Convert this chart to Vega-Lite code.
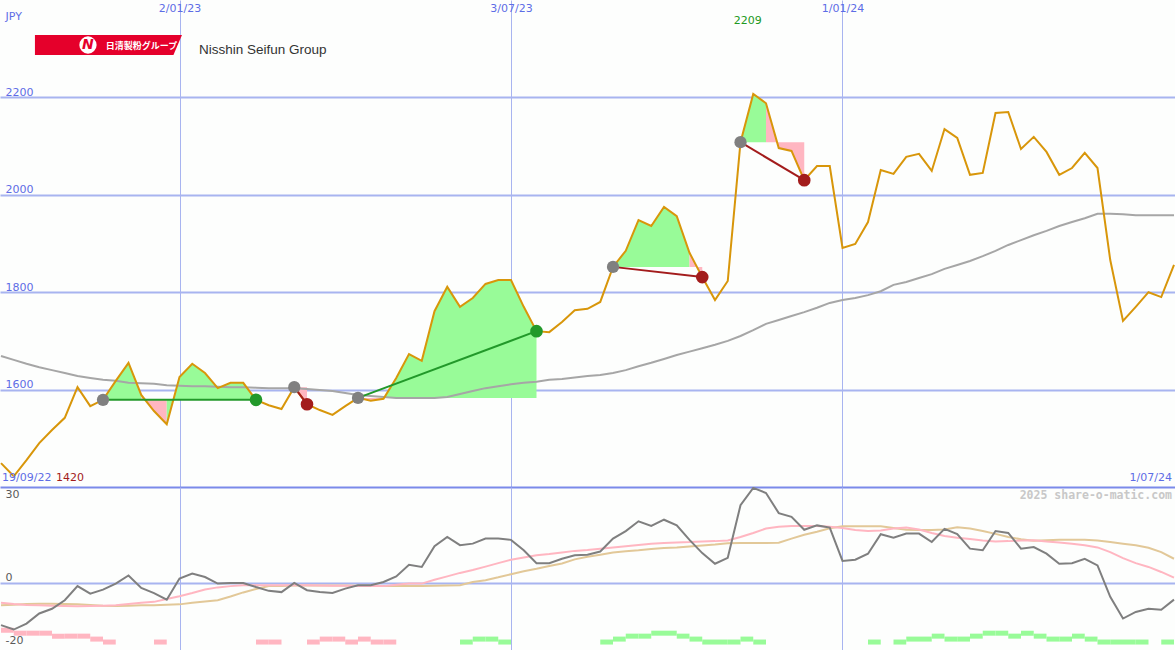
{
"$schema": "https://vega.github.io/schema/vega-lite/v6.json",
"background": "#fdfefd",
"padding": 0,
"spacing": 0,
"bounds": "flush",
"config": {"view": {"stroke": null}, "text": {"font": "DejaVu Sans"}},
"datasets": {
"price": [
{"d":"2022-09-26","p":1449,"ma":1669,"o":-13.4,"pk":-6.3,"tn":-7.1},
{"d":"2022-10-03","p":1422,"ma":1661,"o":-14.8,"pk":-6.7,"tn":-6.9},
{"d":"2022-10-10","p":1455,"ma":1653,"o":-12.9,"pk":-7.0,"tn":-6.7},
{"d":"2022-10-17","p":1490,"ma":1646,"o":-9.7,"pk":-7.1,"tn":-6.6},
{"d":"2022-10-24","p":1517,"ma":1640,"o":-8.2,"pk":-7.2,"tn":-6.6},
{"d":"2022-10-31","p":1542,"ma":1634,"o":-5.5,"pk":-7.3,"tn":-6.7},
{"d":"2022-11-07","p":1605,"ma":1628,"o":-1.0,"pk":-7.4,"tn":-6.8},
{"d":"2022-11-14","p":1566,"ma":1624,"o":-3.4,"pk":-7.3,"tn":-7.0},
{"d":"2022-11-21","p":1579,"ma":1620,"o":-2.1,"pk":-7.2,"tn":-7.2},
{"d":"2022-11-28","p":1618,"ma":1618,"o":-0.2,"pk":-7.1,"tn":-7.3},
{"d":"2022-12-05","p":1655,"ma":1614,"o":2.4,"pk":-6.7,"tn":-7.2},
{"d":"2022-12-12","p":1589,"ma":1613,"o":-1.6,"pk":-6.3,"tn":-7.1},
{"d":"2022-12-19","p":1556,"ma":1612,"o":-3.2,"pk":-6.0,"tn":-7.1},
{"d":"2022-12-26","p":1529,"ma":1609,"o":-5.3,"pk":-5.1,"tn":-6.9},
{"d":"2023-01-02","p":1626,"ma":1608,"o":1.4,"pk":-4.2,"tn":-6.8},
{"d":"2023-01-09","p":1653,"ma":1607,"o":3.0,"pk":-3.2,"tn":-6.3},
{"d":"2023-01-16","p":1634,"ma":1607,"o":1.9,"pk":-2.1,"tn":-5.9},
{"d":"2023-01-23","p":1603,"ma":1606,"o":-0.2,"pk":-1.4,"tn":-5.5},
{"d":"2023-01-30","p":1614,"ma":1605,"o":0.0,"pk":-1.0,"tn":-4.3},
{"d":"2023-02-06","p":1614,"ma":1605,"o":0.0,"pk":-0.7,"tn":-3.0},
{"d":"2023-02-13","p":1579,"ma":1604,"o":-1.3,"pk":-0.7,"tn":-1.9},
{"d":"2023-02-20","p":1568,"ma":1603,"o":-2.5,"pk":-0.7,"tn":-1.0},
{"d":"2023-02-27","p":1560,"ma":1603,"o":-2.9,"pk":-0.7,"tn":-1.0},
{"d":"2023-03-06","p":1605,"ma":1603,"o":0.0,"pk":-0.7,"tn":-0.8},
{"d":"2023-03-13","p":1570,"ma":1601,"o":-2.3,"pk":-0.7,"tn":-0.8},
{"d":"2023-03-20","p":1558,"ma":1599,"o":-2.9,"pk":-0.8,"tn":-0.8},
{"d":"2023-03-27","p":1548,"ma":1597,"o":-3.2,"pk":-0.9,"tn":-0.8},
{"d":"2023-04-03","p":1566,"ma":1593,"o":-1.8,"pk":-0.9,"tn":-0.8},
{"d":"2023-04-10","p":1583,"ma":1589,"o":-0.7,"pk":-1.0,"tn":-0.9},
{"d":"2023-04-17","p":1577,"ma":1587,"o":-0.7,"pk":-1.0,"tn":-0.9},
{"d":"2023-04-24","p":1581,"ma":1585,"o":0.3,"pk":-1.0,"tn":-1.0},
{"d":"2023-05-01","p":1624,"ma":1583,"o":2.1,"pk":-0.6,"tn":-1.0},
{"d":"2023-05-08","p":1673,"ma":1583,"o":5.8,"pk":-0.2,"tn":-1.0},
{"d":"2023-05-15","p":1659,"ma":1583,"o":5.1,"pk":-0.2,"tn":-1.0},
{"d":"2023-05-22","p":1761,"ma":1583,"o":11.7,"pk":1.0,"tn":-0.9},
{"d":"2023-05-29","p":1811,"ma":1585,"o":14.6,"pk":2.1,"tn":-0.8},
{"d":"2023-06-05","p":1770,"ma":1591,"o":12.0,"pk":3.2,"tn":-0.7},
{"d":"2023-06-12","p":1788,"ma":1597,"o":12.5,"pk":4.1,"tn":0.3},
{"d":"2023-06-19","p":1817,"ma":1603,"o":14.1,"pk":5.2,"tn":0.9},
{"d":"2023-06-26","p":1825,"ma":1607,"o":14.1,"pk":6.3,"tn":1.8},
{"d":"2023-07-03","p":1825,"ma":1611,"o":13.7,"pk":7.4,"tn":2.8},
{"d":"2023-07-10","p":1770,"ma":1614,"o":10.4,"pk":8.1,"tn":3.7},
{"d":"2023-07-17","p":1720,"ma":1616,"o":6.3,"pk":8.8,"tn":4.5},
{"d":"2023-07-24","p":1718,"ma":1620,"o":6.3,"pk":9.2,"tn":5.4},
{"d":"2023-07-31","p":1739,"ma":1622,"o":7.7,"pk":9.7,"tn":6.2},
{"d":"2023-08-07","p":1763,"ma":1625,"o":8.8,"pk":10.2,"tn":7.5},
{"d":"2023-08-14","p":1766,"ma":1628,"o":9.0,"pk":10.5,"tn":8.3},
{"d":"2023-08-21","p":1780,"ma":1630,"o":10.0,"pk":10.9,"tn":9.0},
{"d":"2023-08-28","p":1852,"ma":1634,"o":14.1,"pk":11.3,"tn":9.7},
{"d":"2023-09-04","p":1885,"ma":1640,"o":16.5,"pk":11.7,"tn":10.1},
{"d":"2023-09-11","p":1948,"ma":1648,"o":19.6,"pk":12.1,"tn":10.4},
{"d":"2023-09-18","p":1936,"ma":1655,"o":18.1,"pk":12.5,"tn":10.8},
{"d":"2023-09-25","p":1975,"ma":1663,"o":20.1,"pk":12.7,"tn":11.1},
{"d":"2023-10-02","p":1956,"ma":1671,"o":18.3,"pk":12.9,"tn":11.3},
{"d":"2023-10-09","p":1881,"ma":1678,"o":13.7,"pk":13.0,"tn":11.6},
{"d":"2023-10-16","p":1831,"ma":1685,"o":9.5,"pk":13.2,"tn":11.9},
{"d":"2023-10-23","p":1784,"ma":1692,"o":6.1,"pk":13.3,"tn":12.2},
{"d":"2023-10-30","p":1823,"ma":1700,"o":8.0,"pk":13.5,"tn":12.6},
{"d":"2023-11-06","p":2108,"ma":1710,"o":24.7,"pk":14.6,"tn":12.7},
{"d":"2023-11-13","p":2207,"ma":1722,"o":30.2,"pk":15.9,"tn":12.7},
{"d":"2023-11-20","p":2188,"ma":1735,"o":28.6,"pk":17.3,"tn":12.7},
{"d":"2023-11-27","p":2096,"ma":1743,"o":22.2,"pk":17.9,"tn":12.8},
{"d":"2023-12-04","p":2090,"ma":1751,"o":21.0,"pk":18.1,"tn":14.1},
{"d":"2023-12-11","p":2030,"ma":1759,"o":16.9,"pk":18.1,"tn":15.3},
{"d":"2023-12-18","p":2059,"ma":1768,"o":18.3,"pk":18.1,"tn":16.3},
{"d":"2023-12-25","p":2059,"ma":1778,"o":17.6,"pk":17.9,"tn":17.4},
{"d":"2024-01-01","p":1891,"ma":1784,"o":7.0,"pk":17.5,"tn":18.0},
{"d":"2024-01-08","p":1899,"ma":1788,"o":7.4,"pk":16.8,"tn":18.0},
{"d":"2024-01-15","p":1944,"ma":1794,"o":9.3,"pk":16.5,"tn":18.0},
{"d":"2024-01-22","p":2051,"ma":1802,"o":15.5,"pk":16.7,"tn":18.0},
{"d":"2024-01-29","p":2043,"ma":1815,"o":14.4,"pk":17.3,"tn":17.5},
{"d":"2024-02-05","p":2078,"ma":1821,"o":15.7,"pk":17.6,"tn":16.9},
{"d":"2024-02-12","p":2084,"ma":1829,"o":15.7,"pk":17.0,"tn":16.8},
{"d":"2024-02-19","p":2049,"ma":1837,"o":13.0,"pk":15.9,"tn":16.8},
{"d":"2024-02-26","p":2135,"ma":1848,"o":17.2,"pk":14.9,"tn":17.0},
{"d":"2024-03-04","p":2117,"ma":1856,"o":15.5,"pk":14.4,"tn":17.7},
{"d":"2024-03-11","p":2041,"ma":1864,"o":10.9,"pk":14.0,"tn":17.3},
{"d":"2024-03-18","p":2045,"ma":1874,"o":10.4,"pk":13.5,"tn":16.5},
{"d":"2024-03-25","p":2168,"ma":1885,"o":16.5,"pk":13.2,"tn":15.6},
{"d":"2024-04-01","p":2170,"ma":1897,"o":15.9,"pk":13.3,"tn":14.6},
{"d":"2024-04-08","p":2094,"ma":1907,"o":10.9,"pk":13.5,"tn":13.9},
{"d":"2024-04-15","p":2119,"ma":1917,"o":11.4,"pk":13.6,"tn":13.4},
{"d":"2024-04-22","p":2088,"ma":1926,"o":9.3,"pk":13.2,"tn":13.6},
{"d":"2024-04-29","p":2041,"ma":1936,"o":6.1,"pk":12.9,"tn":13.7},
{"d":"2024-05-06","p":2055,"ma":1944,"o":6.3,"pk":12.5,"tn":13.7},
{"d":"2024-05-13","p":2086,"ma":1952,"o":7.7,"pk":12.0,"tn":13.7},
{"d":"2024-05-20","p":2055,"ma":1961,"o":5.6,"pk":11.3,"tn":13.5},
{"d":"2024-05-27","p":1866,"ma":1961,"o":-4.4,"pk":9.8,"tn":13.0},
{"d":"2024-06-03","p":1741,"ma":1960,"o":-11.3,"pk":7.9,"tn":12.5},
{"d":"2024-06-10","p":1770,"ma":1958,"o":-9.2,"pk":6.3,"tn":12.0},
{"d":"2024-06-17","p":1800,"ma":1958,"o":-8.2,"pk":5.1,"tn":11.2},
{"d":"2024-06-24","p":1790,"ma":1958,"o":-8.5,"pk":3.5,"tn":9.8},
{"d":"2024-07-01","p":1856,"ma":1958,"o":-5.3,"pk":1.7,"tn":7.7}
],
"fills": [
{"g":"1a","c":"up","d":"2022-11-21","p":1579,"e":1579},
{"g":"1a","c":"up","d":"2022-11-28","p":1618,"e":1579},
{"g":"1a","c":"up","d":"2022-12-05","p":1655,"e":1579},
{"g":"1a","c":"up","d":"2022-12-12","p":1589,"e":1579},
{"g":"1b","c":"down","d":"2022-12-12","p":1589,"e":1579},
{"g":"1b","c":"down","d":"2022-12-19","p":1556,"e":1579},
{"g":"1b","c":"down","d":"2022-12-26","p":1529,"e":1579},
{"g":"1c","c":"up","d":"2022-12-26","p":1529,"e":1579},
{"g":"1c","c":"up","d":"2023-01-02","p":1626,"e":1579},
{"g":"1c","c":"up","d":"2023-01-09","p":1653,"e":1579},
{"g":"1c","c":"up","d":"2023-01-16","p":1634,"e":1579},
{"g":"1c","c":"up","d":"2023-01-23","p":1603,"e":1579},
{"g":"1c","c":"up","d":"2023-01-30","p":1614,"e":1579},
{"g":"1c","c":"up","d":"2023-02-06","p":1614,"e":1579},
{"g":"1c","c":"up","d":"2023-02-13","p":1579,"e":1579},
{"g":"2a","c":"down","d":"2023-03-06","p":1605,"e":1605},
{"g":"2a","c":"down","d":"2023-03-13","p":1570,"e":1605},
{"g":"3a","c":"down","d":"2023-04-10","p":1583,"e":1583},
{"g":"3a","c":"down","d":"2023-04-17","p":1577,"e":1583},
{"g":"3a","c":"down","d":"2023-04-24","p":1581,"e":1583},
{"g":"3b","c":"up","d":"2023-04-24","p":1581,"e":1583},
{"g":"3b","c":"up","d":"2023-05-01","p":1624,"e":1583},
{"g":"3b","c":"up","d":"2023-05-08","p":1673,"e":1583},
{"g":"3b","c":"up","d":"2023-05-15","p":1659,"e":1583},
{"g":"3b","c":"up","d":"2023-05-22","p":1761,"e":1583},
{"g":"3b","c":"up","d":"2023-05-29","p":1811,"e":1583},
{"g":"3b","c":"up","d":"2023-06-05","p":1770,"e":1583},
{"g":"3b","c":"up","d":"2023-06-12","p":1788,"e":1583},
{"g":"3b","c":"up","d":"2023-06-19","p":1817,"e":1583},
{"g":"3b","c":"up","d":"2023-06-26","p":1825,"e":1583},
{"g":"3b","c":"up","d":"2023-07-03","p":1825,"e":1583},
{"g":"3b","c":"up","d":"2023-07-10","p":1770,"e":1583},
{"g":"3b","c":"up","d":"2023-07-17","p":1720,"e":1583},
{"g":"4a","c":"up","d":"2023-08-28","p":1852,"e":1852},
{"g":"4a","c":"up","d":"2023-09-04","p":1885,"e":1852},
{"g":"4a","c":"up","d":"2023-09-11","p":1948,"e":1852},
{"g":"4a","c":"up","d":"2023-09-18","p":1936,"e":1852},
{"g":"4a","c":"up","d":"2023-09-25","p":1975,"e":1852},
{"g":"4a","c":"up","d":"2023-10-02","p":1956,"e":1852},
{"g":"4a","c":"up","d":"2023-10-09","p":1881,"e":1852},
{"g":"4b","c":"down","d":"2023-10-09","p":1881,"e":1852},
{"g":"4b","c":"down","d":"2023-10-16","p":1831,"e":1852},
{"g":"5a","c":"up","d":"2023-11-06","p":2108,"e":2108},
{"g":"5a","c":"up","d":"2023-11-13","p":2207,"e":2108},
{"g":"5a","c":"up","d":"2023-11-20","p":2188,"e":2108},
{"g":"5b","c":"down","d":"2023-11-20","p":2188,"e":2108},
{"g":"5b","c":"down","d":"2023-11-27","p":2096,"e":2108},
{"g":"5b","c":"down","d":"2023-12-04","p":2090,"e":2108},
{"g":"5b","c":"down","d":"2023-12-11","p":2030,"e":2108}
],
"trades": [
{"d1":"2022-11-21","p1":1579,"d2":"2023-02-13","p2":1579,"r":"win"},
{"d1":"2023-03-06","p1":1605,"d2":"2023-03-13","p2":1570,"r":"loss"},
{"d1":"2023-04-10","p1":1583,"d2":"2023-07-17","p2":1720,"r":"win"},
{"d1":"2023-08-28","p1":1852,"d2":"2023-10-16","p2":1831,"r":"loss"},
{"d1":"2023-11-06","p1":2108,"d2":"2023-12-11","p2":2030,"r":"loss"}
],
"bars": [
{"a":"2022-09-26","b":"2022-10-03","n":5,"s":"down"},
{"a":"2022-10-03","b":"2022-10-10","n":4,"s":"down"},
{"a":"2022-10-10","b":"2022-10-17","n":4,"s":"down"},
{"a":"2022-10-17","b":"2022-10-24","n":4,"s":"down"},
{"a":"2022-10-24","b":"2022-10-31","n":3,"s":"down"},
{"a":"2022-10-31","b":"2022-11-07","n":3,"s":"down"},
{"a":"2022-11-07","b":"2022-11-14","n":3,"s":"down"},
{"a":"2022-11-14","b":"2022-11-21","n":2,"s":"down"},
{"a":"2022-11-21","b":"2022-11-28","n":1,"s":"down"},
{"a":"2022-12-19","b":"2022-12-26","n":1,"s":"down"},
{"a":"2023-02-13","b":"2023-02-20","n":1,"s":"down"},
{"a":"2023-02-20","b":"2023-02-27","n":1,"s":"down"},
{"a":"2023-03-13","b":"2023-03-20","n":1,"s":"down"},
{"a":"2023-03-20","b":"2023-03-27","n":2,"s":"down"},
{"a":"2023-03-27","b":"2023-04-03","n":2,"s":"down"},
{"a":"2023-04-03","b":"2023-04-10","n":1,"s":"down"},
{"a":"2023-04-10","b":"2023-04-17","n":2,"s":"down"},
{"a":"2023-04-17","b":"2023-04-24","n":1,"s":"down"},
{"a":"2023-04-24","b":"2023-05-01","n":1,"s":"down"},
{"a":"2023-06-05","b":"2023-06-12","n":1,"s":"up"},
{"a":"2023-06-12","b":"2023-06-19","n":2,"s":"up"},
{"a":"2023-06-19","b":"2023-06-26","n":2,"s":"up"},
{"a":"2023-06-26","b":"2023-07-03","n":1,"s":"up"},
{"a":"2023-08-21","b":"2023-08-28","n":1,"s":"up"},
{"a":"2023-08-28","b":"2023-09-04","n":2,"s":"up"},
{"a":"2023-09-04","b":"2023-09-11","n":3,"s":"up"},
{"a":"2023-09-11","b":"2023-09-18","n":3,"s":"up"},
{"a":"2023-09-18","b":"2023-09-25","n":4,"s":"up"},
{"a":"2023-09-25","b":"2023-10-02","n":4,"s":"up"},
{"a":"2023-10-02","b":"2023-10-09","n":3,"s":"up"},
{"a":"2023-10-09","b":"2023-10-16","n":2,"s":"up"},
{"a":"2023-10-16","b":"2023-10-23","n":1,"s":"up"},
{"a":"2023-10-23","b":"2023-10-30","n":1,"s":"up"},
{"a":"2023-10-30","b":"2023-11-06","n":1,"s":"up"},
{"a":"2023-11-06","b":"2023-11-13","n":2,"s":"up"},
{"a":"2023-11-13","b":"2023-11-20","n":1,"s":"up"},
{"a":"2024-01-15","b":"2024-01-22","n":1,"s":"up"},
{"a":"2024-01-29","b":"2024-02-05","n":1,"s":"up"},
{"a":"2024-02-05","b":"2024-02-12","n":2,"s":"up"},
{"a":"2024-02-12","b":"2024-02-19","n":2,"s":"up"},
{"a":"2024-02-19","b":"2024-02-26","n":3,"s":"up"},
{"a":"2024-02-26","b":"2024-03-04","n":2,"s":"up"},
{"a":"2024-03-04","b":"2024-03-11","n":2,"s":"up"},
{"a":"2024-03-11","b":"2024-03-18","n":3,"s":"up"},
{"a":"2024-03-18","b":"2024-03-25","n":4,"s":"up"},
{"a":"2024-03-25","b":"2024-04-01","n":4,"s":"up"},
{"a":"2024-04-01","b":"2024-04-08","n":3,"s":"up"},
{"a":"2024-04-08","b":"2024-04-15","n":4,"s":"up"},
{"a":"2024-04-15","b":"2024-04-22","n":3,"s":"up"},
{"a":"2024-04-22","b":"2024-04-29","n":2,"s":"up"},
{"a":"2024-04-29","b":"2024-05-06","n":2,"s":"up"},
{"a":"2024-05-06","b":"2024-05-13","n":3,"s":"up"},
{"a":"2024-05-13","b":"2024-05-20","n":2,"s":"up"},
{"a":"2024-05-20","b":"2024-05-27","n":1,"s":"up"},
{"a":"2024-05-27","b":"2024-06-03","n":1,"s":"up"},
{"a":"2024-06-03","b":"2024-06-10","n":1,"s":"up"},
{"a":"2024-06-10","b":"2024-06-17","n":1,"s":"up"},
{"a":"2024-06-24","b":"2024-07-01","n":1,"s":"up"}
]
},
"vconcat": [
{
"width": 1175, "height": 487,
"resolve": {"scale": {"color": "independent"}},
"layer": [
{"data": {"name": "fills"},
 "mark": {"type": "area", "interpolate": "linear", "opacity": 1, "clip": true},
 "encoding": {
  "x": {"field": "d", "type": "temporal",
   "scale": {"type": "utc", "domain": [{"year":2022,"month":9,"date":25,"hours":10,"minutes":48,"utc":true},{"year":2024,"month":7,"date":1,"hours":13,"minutes":12,"utc":true}]},
   "axis": {"orient": "top", "title": null, "values": [{"year":2023,"month":1,"date":2,"utc":true},{"year":2023,"month":7,"date":3,"utc":true},{"year":2024,"month":1,"date":1,"utc":true}],
    "labelExpr": "utcFormat(datum.value, '%-d/%m/%y')", "labelColor": "#5d6de6", "labelFont": "DejaVu Sans", "labelFontSize": 11,
    "labelPadding": -13, "tickSize": 0, "ticks": false, "domain": false, "grid": true, "gridColor": "#a8b4f0", "gridWidth": 1, "labelOverlap": false, "labelFlush": false}},
  "y": {"field": "p", "type": "quantitative", "stack": null,
   "scale": {"domain": [1400, 2400], "zero": false, "nice": false},
   "axis": {"values": [1400, 1600, 1800, 2000, 2200], "labelExpr": "datum.value == 1400 ? '' : '' + datum.value",
    "labelAlign": "left", "labelBaseline": "bottom", "labelPadding": -5, "tickSize": 0, "ticks": false, "domain": false,
    "labelColor": "#5d6de6", "labelFont": "DejaVu Sans", "labelFontSize": 11,
    "grid": true, "gridWidth": 2, "gridColor": {"condition": {"test": "datum.value == 1400", "value": "#7b8aea"}, "value": "#a8b4f0"},
    "title": "JPY", "titleAngle": 0, "titleX": 5, "titleY": 21, "titleAlign": "left", "titleBaseline": "bottom",
    "titleColor": "#5d6de6", "titleFont": "DejaVu Sans", "titleFontSize": 11, "titleFontWeight": "normal"}},
  "y2": {"field": "e"},
  "color": {"field": "c", "type": "nominal", "scale": {"domain": ["up", "down"], "range": ["#98fb98", "#ffb6c1"]}, "legend": null},
  "detail": {"field": "g"}
 }},
{"data": {"name": "price"},
 "mark": {"type": "line", "color": "#a6a6a6", "strokeWidth": 2, "clip": true},
 "encoding": {
  "x": {"field": "d", "type": "temporal", "scale": {"type": "utc", "domain": [{"year":2022,"month":9,"date":25,"hours":10,"minutes":48,"utc":true},{"year":2024,"month":7,"date":1,"hours":13,"minutes":12,"utc":true}]}},
  "y": {"field": "ma", "type": "quantitative", "scale": {"domain": [1400, 2400], "zero": false, "nice": false}}
 }},
{"data": {"name": "price"},
 "mark": {"type": "line", "color": "#d8960a", "strokeWidth": 2, "clip": true},
 "encoding": {
  "x": {"field": "d", "type": "temporal", "scale": {"type": "utc", "domain": [{"year":2022,"month":9,"date":25,"hours":10,"minutes":48,"utc":true},{"year":2024,"month":7,"date":1,"hours":13,"minutes":12,"utc":true}]}},
  "y": {"field": "p", "type": "quantitative", "scale": {"domain": [1400, 2400], "zero": false, "nice": false}}
 }},
{"data": {"name": "trades"},
 "mark": {"type": "rule", "strokeWidth": 2, "clip": true},
 "encoding": {
  "x": {"field": "d1", "type": "temporal", "scale": {"type": "utc", "domain": [{"year":2022,"month":9,"date":25,"hours":10,"minutes":48,"utc":true},{"year":2024,"month":7,"date":1,"hours":13,"minutes":12,"utc":true}]}},
  "y": {"field": "p1", "type": "quantitative", "scale": {"domain": [1400, 2400], "zero": false, "nice": false}},
  "x2": {"field": "d2"},
  "y2": {"field": "p2"},
  "color": {"field": "r", "type": "nominal", "scale": {"domain": ["win", "loss"], "range": ["#22992a", "#a31c1c"]}, "legend": null}
 }},
{"data": {"name": "trades"},
 "mark": {"type": "circle", "size": 150, "opacity": 1, "color": "#808080", "clip": true},
 "encoding": {
  "x": {"field": "d1", "type": "temporal", "scale": {"type": "utc", "domain": [{"year":2022,"month":9,"date":25,"hours":10,"minutes":48,"utc":true},{"year":2024,"month":7,"date":1,"hours":13,"minutes":12,"utc":true}]}},
  "y": {"field": "p1", "type": "quantitative", "scale": {"domain": [1400, 2400], "zero": false, "nice": false}}
 }},
{"data": {"name": "trades"},
 "mark": {"type": "circle", "size": 160, "opacity": 1, "clip": true},
 "encoding": {
  "x": {"field": "d2", "type": "temporal", "scale": {"type": "utc", "domain": [{"year":2022,"month":9,"date":25,"hours":10,"minutes":48,"utc":true},{"year":2024,"month":7,"date":1,"hours":13,"minutes":12,"utc":true}]}},
  "y": {"field": "p2", "type": "quantitative", "scale": {"domain": [1400, 2400], "zero": false, "nice": false}},
  "color": {"field": "r", "type": "nominal", "scale": {"domain": ["win", "loss"], "range": ["#22992a", "#a31c1c"]}, "legend": null}
 }},
{"data": {"values": [{}]},
 "mark": {"type": "text", "text": "19/09/22", "align": "left", "baseline": "bottom", "dx": 2, "dy": -4, "color": "#5d6de6", "font": "DejaVu Sans", "fontSize": 11},
 "encoding": {
  "x": {"datum": {"year":2022,"month":9,"date":25,"hours":10,"minutes":48,"utc":true}, "type": "temporal"},
  "y": {"datum": 1400, "type": "quantitative"}
 }},
{"data": {"values": [{}]},
 "mark": {"type": "text", "text": "1420", "align": "left", "baseline": "bottom", "dx": 56, "dy": -4, "color": "#a31c1c", "font": "DejaVu Sans", "fontSize": 11},
 "encoding": {
  "x": {"datum": {"year":2022,"month":9,"date":25,"hours":10,"minutes":48,"utc":true}, "type": "temporal"},
  "y": {"datum": 1400, "type": "quantitative"}
 }},
{"data": {"values": [{}]},
 "mark": {"type": "text", "text": "1/07/24", "align": "right", "baseline": "bottom", "dx": -3, "dy": -4, "color": "#5d6de6", "font": "DejaVu Sans", "fontSize": 11},
 "encoding": {
  "x": {"datum": {"year":2024,"month":7,"date":1,"hours":13,"minutes":12,"utc":true}, "type": "temporal"},
  "y": {"datum": 1400, "type": "quantitative"}
 }},
{"data": {"values": [{}]},
 "mark": {"type": "text", "text": "2209", "align": "center", "baseline": "middle", "color": "#229922", "font": "DejaVu Sans", "fontSize": 11},
 "encoding": {
  "x": {"datum": {"year":2023,"month":11,"date":10,"utc":true}, "type": "temporal"},
  "y": {"datum": 2356, "type": "quantitative"}
 }},
{"data": {"values": [{}]},
 "mark": {"type": "point", "shape": "M-1,-0.136L1,-0.136L0.884,0.136L-1,0.136Z", "size": 21609, "filled": true, "color": "#e5002b", "opacity": 1, "strokeWidth": 0},
 "encoding": {
  "x": {"datum": {"year":2022,"month":11,"date":24,"utc":true}, "type": "temporal"},
  "y": {"datum": 2307.6, "type": "quantitative"}
 }},
{"data": {"values": [{}]},
 "mark": {"type": "circle", "size": 300, "color": "#ffffff", "opacity": 1},
 "encoding": {
  "x": {"datum": {"year":2022,"month":11,"date":12,"hours":18,"utc":true}, "type": "temporal"},
  "y": {"datum": 2307.6, "type": "quantitative"}
 }},
{"data": {"values": [{}]},
 "mark": {"type": "text", "text": "N", "align": "center", "baseline": "middle", "color": "#e5002b", "font": "DejaVu Sans", "fontSize": 14, "fontWeight": "bold", "fontStyle": "italic"},
 "encoding": {
  "x": {"datum": {"year":2022,"month":11,"date":12,"hours":18,"utc":true}, "type": "temporal"},
  "y": {"datum": 2307.6, "type": "quantitative"}
 }},
{"data": {"values": [{}]},
 "mark": {"type": "text", "text": "日清製粉グループ", "align": "left", "baseline": "middle", "color": "#ffffff", "font": "Noto Sans CJK JP", "fontSize": 9, "fontWeight": "bold"},
 "encoding": {
  "x": {"datum": {"year":2022,"month":11,"date":22,"hours":12,"utc":true}, "type": "temporal"},
  "y": {"datum": 2306, "type": "quantitative"}
 }},
{"data": {"values": [{}]},
 "mark": {"type": "text", "text": "Nisshin Seifun Group", "align": "left", "baseline": "middle", "color": "#333333", "font": "Liberation Sans", "fontSize": 13.5},
 "encoding": {
  "x": {"datum": {"year":2023,"month":1,"date":12,"hours":17,"utc":true}, "type": "temporal"},
  "y": {"datum": 2297, "type": "quantitative"}
 }}
]
},
{
"width": 1175, "height": 163,
"resolve": {"scale": {"y": "independent"}},
"layer": [
{"data": {"name": "bars"},
 "mark": {"type": "bar", "opacity": 1, "clip": true},
 "encoding": {
  "x": {"field": "a", "type": "temporal",
   "scale": {"type": "utc", "domain": [{"year":2022,"month":9,"date":25,"hours":10,"minutes":48,"utc":true},{"year":2024,"month":7,"date":1,"hours":13,"minutes":12,"utc":true}]},
   "axis": {"orient": "bottom", "title": null, "labels": false, "ticks": false, "tickSize": 0, "domain": false, "grid": true, "gridColor": "#a8b4f0", "gridWidth": 1,
    "values": [{"year":2023,"month":1,"date":2,"utc":true},{"year":2023,"month":7,"date":3,"utc":true},{"year":2024,"month":1,"date":1,"utc":true}]}},
  "x2": {"field": "b"},
  "y": {"field": "n", "type": "quantitative", "scale": {"domain": [0, 51.8], "nice": false, "zero": true}, "axis": null},
  "color": {"field": "s", "type": "nominal", "scale": {"domain": ["up", "down"], "range": ["#98fb98", "#ffb6c1"]}, "legend": null}
 }},
{"layer": [
 {"data": {"name": "price"},
  "mark": {"type": "line", "color": "#e2c898", "strokeWidth": 2, "clip": true},
  "encoding": {
   "x": {"field": "d", "type": "temporal", "scale": {"type": "utc", "domain": [{"year":2022,"month":9,"date":25,"hours":10,"minutes":48,"utc":true},{"year":2024,"month":7,"date":1,"hours":13,"minutes":12,"utc":true}]}},
   "y": {"field": "tn", "type": "quantitative", "scale": {"domain": [-21.3, 30.5], "zero": false, "nice": false},
    "axis": {"values": [-20, 0, 30], "title": null, "labelAlign": "left", "labelExpr": "'' + datum.value",
     "labelBaseline": {"condition": {"test": "datum.value == 30", "value": "top"}, "value": "bottom"},
     "labelPadding": -5, "tickSize": 0, "ticks": false, "domain": false,
     "labelColor": "#5a5a5a", "labelFont": "DejaVu Sans", "labelFontSize": 11,
     "grid": true, "gridWidth": 2, "gridColor": "#a8b4f0",
     "gridOpacity": {"condition": {"test": "datum.value == 0", "value": 1}, "value": 0}}}
  }},
 {"data": {"name": "price"},
  "mark": {"type": "line", "color": "#ffb6c1", "strokeWidth": 2, "clip": true},
  "encoding": {
   "x": {"field": "d", "type": "temporal", "scale": {"type": "utc", "domain": [{"year":2022,"month":9,"date":25,"hours":10,"minutes":48,"utc":true},{"year":2024,"month":7,"date":1,"hours":13,"minutes":12,"utc":true}]}},
   "y": {"field": "pk", "type": "quantitative", "scale": {"domain": [-21.3, 30.5], "zero": false, "nice": false}}
  }},
 {"data": {"name": "price"},
  "mark": {"type": "line", "color": "#7f7f7f", "strokeWidth": 2, "clip": true},
  "encoding": {
   "x": {"field": "d", "type": "temporal", "scale": {"type": "utc", "domain": [{"year":2022,"month":9,"date":25,"hours":10,"minutes":48,"utc":true},{"year":2024,"month":7,"date":1,"hours":13,"minutes":12,"utc":true}]}},
   "y": {"field": "o", "type": "quantitative", "scale": {"domain": [-21.3, 30.5], "zero": false, "nice": false}}
  }},
 {"data": {"values": [{}]},
  "mark": {"type": "text", "text": "2025 share-o-matic.com", "align": "right", "baseline": "middle", "dx": -3, "color": "#c8c8c8", "font": "DejaVu Sans Mono", "fontSize": 11.5, "fontWeight": "bold"},
  "encoding": {
   "x": {"datum": {"year":2024,"month":7,"date":1,"hours":13,"minutes":12,"utc":true}, "type": "temporal"},
   "y": {"datum": 27.6, "type": "quantitative"}
  }}
]}
]
}
]
}
